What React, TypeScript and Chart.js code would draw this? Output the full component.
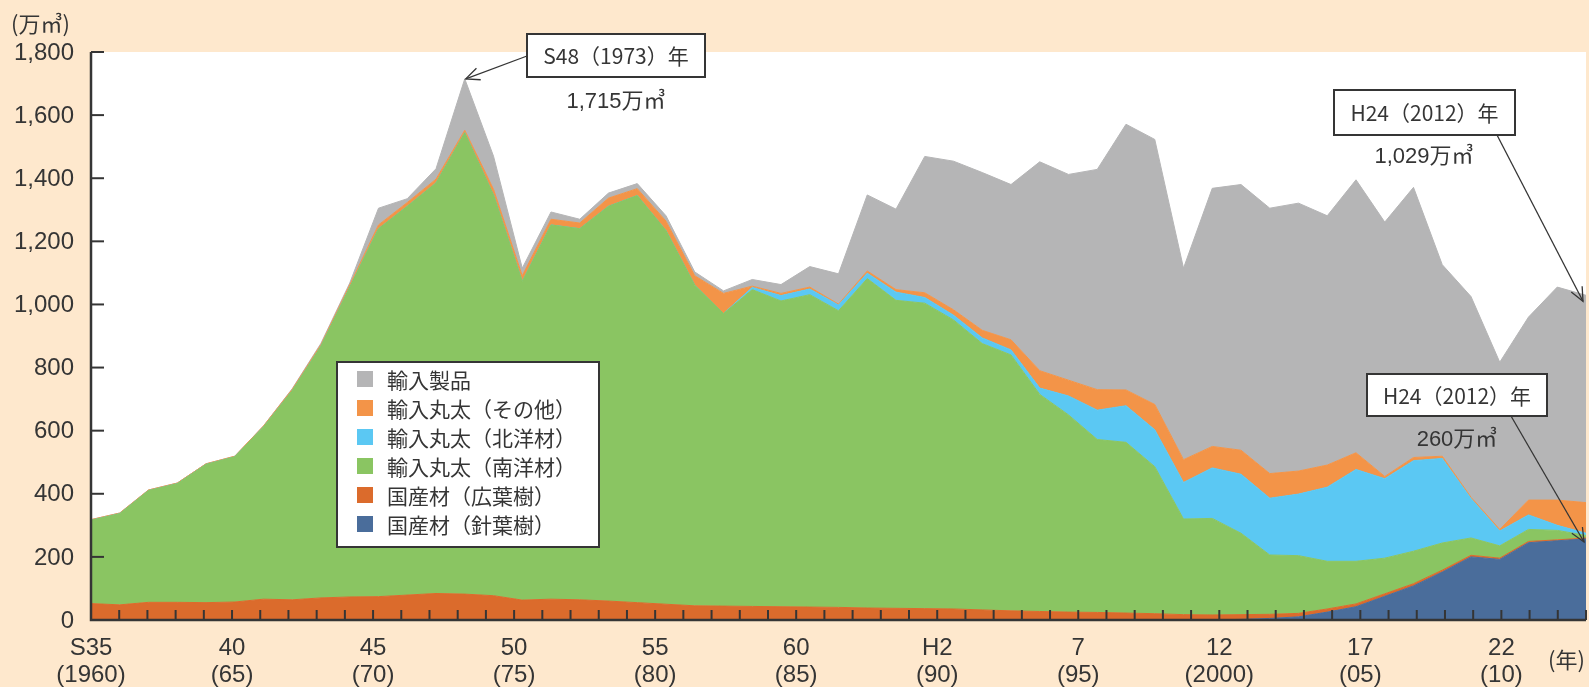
import React, { useEffect, useRef } from "react";
import { Chart, registerables } from "chart.js";

Chart.register(...registerables);

// ---- data (万㎥) ----
const years = [
  1960, 1961, 1962, 1963, 1964, 1965, 1966, 1967, 1968, 1969,
  1970, 1971, 1972, 1973, 1974, 1975, 1976, 1977, 1978, 1979,
  1980, 1981, 1982, 1983, 1984, 1985, 1986, 1987, 1988, 1989,
  1990, 1991, 1992, 1993, 1994, 1995, 1996, 1997, 1998, 1999,
  2000, 2001, 2002, 2003, 2004, 2005, 2006, 2007, 2008, 2009,
  2010, 2011, 2012,
];

// 国産材（針葉樹）
const domesticSoftwood = [
  0, 0, 0, 0, 0, 0, 0, 0, 0, 0,
  0, 0, 0, 0, 0, 0, 0, 0, 0, 0,
  0, 0, 0, 0, 0, 0, 0, 0, 0, 0,
  0, 0, 0, 0, 0, 0, 0, 0, 0, 0,
  2, 5, 10, 25, 42, 75, 108, 152, 200, 192,
  245, 251, 257,
];

// 国産材（広葉樹）
const domesticHardwood = [
  52, 48, 56, 56, 55, 57, 66, 64, 70, 73,
  74, 79, 84, 82, 77, 63, 66, 64, 60, 55,
  50, 45, 44, 43, 42, 41, 40, 38, 37, 36,
  35, 32, 29, 27, 25, 24, 22, 20, 17, 16,
  15, 13, 11, 10, 9, 8, 7, 6, 5, 4,
  4, 3, 3,
];

// 輸入丸太（南洋材）
const southSeaLogs = [
  264, 289, 354, 376, 438, 460, 546, 663, 798, 982,
  1166, 1232, 1301, 1462, 1270, 1010, 1186, 1176, 1251, 1290,
  1184, 1016, 927, 1004, 969, 990, 940, 1044, 976, 968,
  916, 844, 811, 688, 625, 548, 541, 466, 303, 306,
  258, 188, 183, 151, 135, 113, 103, 86, 55, 39,
  38, 30, 8,
];

// 輸入丸太（北洋材）
const northSeaLogs = [
  0, 0, 0, 0, 0, 0, 0, 0, 0, 0,
  0, 0, 0, 0, 0, 0, 0, 0, 0, 0,
  0, 0, 0, 7, 17, 18, 18, 17, 26, 18,
  15, 18, 16, 20, 60, 93, 116, 117, 116, 160,
  187, 180, 195, 235, 291, 252, 287, 268, 125, 47,
  46, 16, 7,
];

// 輸入丸太（その他）
const otherLogs = [
  2, 2, 2, 2, 2, 2, 3, 4, 5, 7,
  12, 12, 12, 8, 18, 18, 18, 18, 26, 22,
  30, 30, 64, 4, 7, 6, 3, 7, 8, 15,
  17, 24, 32, 55, 50, 65, 50, 80, 72, 68,
  76, 78, 73, 70, 53, 7, 10, 7, 4, 5,
  47, 80, 97,
];

// 輸入製品
const importedProducts = [
  0, 0, 0, 0, 0, 0, 0, 2, 4, 6,
  53, 12, 33, 163, 105, 24, 23, 12, 16, 16,
  17, 12, 8, 21, 28, 65, 96, 241, 255, 432,
  471, 500, 492, 662, 652, 698, 842, 840, 607, 818,
  842, 841, 849, 790, 865, 806, 856, 607, 636, 530,
  580, 675, 657,
];

const yTicks = [0, 200, 400, 600, 800, 1000, 1200, 1400, 1600, 1800];
const xLabelTop = ["S35", "40", "45", "50", "55", "60", "H2", "7", "12", "17", "22"];
const xLabelBottom = ["(1960)", "(65)", "(70)", "(75)", "(80)", "(85)", "(90)", "(95)", "(2000)", "(05)", "(10)"];

const seriesNames = [
  "国産材（針葉樹）",
  "国産材（広葉樹）",
  "輸入丸太（南洋材）",
  "輸入丸太（北洋材）",
  "輸入丸太（その他）",
  "輸入製品",
];
const seriesColors = ["#4A6D9B", "#DB6B2C", "#8AC562", "#5BC8F3", "#F39448", "#B5B5B6"];

const PEACH = "#FEE8CD";
const INK = "#353535";
const NUM_FONT = '"Liberation Sans", Arial, "Noto Sans CJK JP", sans-serif';
const JP_FONT = '"Noto Sans CJK JP", "Liberation Sans", sans-serif';

function fmt(v: number) {
  return v.toLocaleString("en-US");
}

function drawArrow(ctx: CanvasRenderingContext2D, x1: number, y1: number, x2: number, y2: number) {
  ctx.save();
  ctx.strokeStyle = INK;
  ctx.lineWidth = 1.3;
  ctx.beginPath();
  ctx.moveTo(x1, y1);
  ctx.lineTo(x2, y2);
  ctx.stroke();
  const ang = Math.atan2(y2 - y1, x2 - x1);
  const len = 15;
  const spread = 0.42;
  ctx.beginPath();
  ctx.moveTo(x2 - len * Math.cos(ang - spread), y2 - len * Math.sin(ang - spread));
  ctx.lineTo(x2, y2);
  ctx.lineTo(x2 - len * Math.cos(ang + spread), y2 - len * Math.sin(ang + spread));
  ctx.stroke();
  ctx.restore();
}

function drawBox(ctx: CanvasRenderingContext2D, x: number, y: number, w: number, h: number, text: string) {
  ctx.save();
  ctx.fillStyle = "#ffffff";
  ctx.fillRect(x, y, w, h);
  ctx.strokeStyle = INK;
  ctx.lineWidth = 2;
  ctx.strokeRect(x, y, w, h);
  ctx.fillStyle = INK;
  ctx.font = `21px ${JP_FONT}`;
  ctx.textAlign = "center";
  ctx.textBaseline = "middle";
  ctx.fillText(text, x + w / 2, y + h / 2 + 1);
  ctx.restore();
}

export default function App() {
  const ref = useRef<HTMLCanvasElement | null>(null);

  useEffect(() => {
    document.body.style.margin = "0";
    document.body.style.overflow = "hidden";
    const canvas = ref.current;
    if (!canvas) return;

    const layers = [
      domesticSoftwood,
      domesticHardwood,
      southSeaLogs,
      northSeaLogs,
      otherLogs,
      importedProducts,
    ];
    const totals = years.map((_, i) => layers.reduce((s, arr) => s + arr[i], 0));
    const domestic = years.map((_, i) => domesticSoftwood[i] + domesticHardwood[i]);

    const bgPlugin = {
      id: "bgPlugin",
      beforeDraw(chart: any) {
        const { ctx, chartArea: a, width, height } = chart;
        ctx.save();
        ctx.fillStyle = PEACH;
        ctx.fillRect(0, 0, width, height);
        ctx.fillStyle = "#ffffff";
        ctx.fillRect(a.left, a.top, a.right - a.left, a.bottom - a.top);
        ctx.restore();
      },
    };

    const decorPlugin = {
      id: "decorPlugin",
      afterDraw(chart: any) {
        const { ctx, chartArea: a } = chart;
        const xS = chart.scales.x;
        const yS = chart.scales.y;
        ctx.save();

        // axes
        ctx.strokeStyle = INK;
        ctx.lineWidth = 2.5;
        ctx.beginPath();
        ctx.moveTo(a.left, a.top);
        ctx.lineTo(a.left, a.bottom);
        ctx.lineTo(a.right, a.bottom);
        ctx.stroke();

        // y ticks (inward) and labels
        ctx.lineWidth = 2;
        ctx.fillStyle = INK;
        ctx.font = `24px ${NUM_FONT}`;
        ctx.textAlign = "right";
        ctx.textBaseline = "middle";
        yTicks.forEach((v) => {
          const y = yS.getPixelForValue(v);
          ctx.beginPath();
          ctx.moveTo(a.left, y);
          ctx.lineTo(a.left + 13, y);
          ctx.stroke();
          ctx.fillText(fmt(v), 74, y + 1);
        });

        // x ticks (inward), one per year interval
        const n = years.length;
        const step = (a.right - a.left) / n;
        for (let k = 1; k <= n; k++) {
          const x = a.left + k * step;
          ctx.beginPath();
          ctx.moveTo(x, a.bottom);
          ctx.lineTo(x, a.bottom - 10);
          ctx.stroke();
        }
        ctx.textAlign = "center";
        xLabelTop.forEach((t, i) => {
          const x = a.left + i * 5 * step;
          ctx.fillText(t, x, 648);
          ctx.fillText(xLabelBottom[i], x, 675);
        });

        // unit labels
        ctx.font = `22px ${JP_FONT}`;
        ctx.textAlign = "left";
        ctx.fillText("(万㎥)", 11, 24);
        ctx.fillText("(年)", 1548, 660);

        // legend
        const lx = 337, ly = 362, lw = 262, lh = 185;
        ctx.fillStyle = "#ffffff";
        ctx.fillRect(lx, ly, lw, lh);
        ctx.strokeStyle = INK;
        ctx.lineWidth = 2;
        ctx.strokeRect(lx, ly, lw, lh);
        ctx.font = `21px ${JP_FONT}`;
        ctx.textBaseline = "middle";
        for (let j = 0; j < seriesNames.length; j++) {
          const idx = seriesNames.length - 1 - j;
          const cy = 379 + j * 29;
          ctx.fillStyle = seriesColors[idx];
          ctx.fillRect(357, cy - 8, 16, 16);
          ctx.fillStyle = INK;
          ctx.fillText(seriesNames[idx], 387, cy + 1);
        }

        // annotations
        const peakIdx = years.indexOf(1973);
        const lastIdx = years.length - 1;
        const px = xS.getPixelForValue(peakIdx);
        const py = yS.getPixelForValue(totals[peakIdx]);
        drawArrow(ctx, 527, 56, px + 1, py);
        drawBox(ctx, 527, 34, 178, 43, "S48（1973）年");

        const tx = xS.getPixelForValue(lastIdx);
        const ty = yS.getPixelForValue(totals[lastIdx]);
        drawArrow(ctx, 1497, 135, tx - 3, ty + 6);
        drawBox(ctx, 1334, 90, 181, 45, "H24（2012）年");

        const dy = yS.getPixelForValue(domestic[lastIdx]);
        drawArrow(ctx, 1511, 416, tx - 2, dy + 4);
        drawBox(ctx, 1367, 374, 180, 42, "H24（2012）年");

        ctx.fillStyle = INK;
        ctx.font = `22px ${NUM_FONT}`;
        ctx.textAlign = "center";
        ctx.textBaseline = "middle";
        ctx.fillText(`${fmt(totals[peakIdx])}万㎥`, 616, 102);
        ctx.fillText(`${fmt(totals[lastIdx])}万㎥`, 1424, 157);
        ctx.fillText(`${fmt(domestic[lastIdx])}万㎥`, 1457, 440);

        ctx.restore();
      },
    };

    const chart = new Chart(canvas, {
      type: "line",
      data: {
        labels: years.map(String),
        datasets: layers.map((arr, i) => ({
          label: seriesNames[i],
          data: arr,
          backgroundColor: seriesColors[i],
          borderColor: seriesColors[i],
          borderWidth: 1,
          pointRadius: 0,
          tension: 0,
          fill: i === 0 ? "origin" : "-1",
        })),
      },
      options: {
        responsive: false,
        devicePixelRatio: 1,
        animation: false,
        layout: { padding: { left: 91, top: 52, right: 3, bottom: 67 } },
        plugins: {
          legend: { display: false },
          tooltip: { enabled: false },
        },
        scales: {
          x: { display: false, offset: false },
          y: { display: false, stacked: true, min: 0, max: 1800 },
        },
      },
      plugins: [bgPlugin, decorPlugin],
    });

    return () => chart.destroy();
  }, []);

  return (
    <canvas
      ref={ref}
      width={1589}
      height={687}
      style={{ display: "block", width: "1589px", height: "687px" }}
    />
  );
}
